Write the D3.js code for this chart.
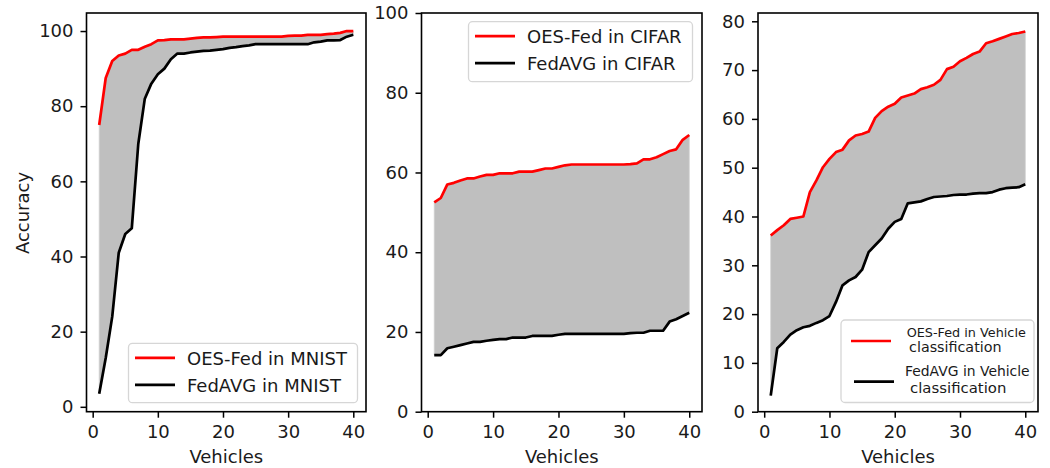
<!DOCTYPE html>
<html>
<head>
<meta charset="utf-8">
<script src="https://cdn.jsdelivr.net/npm/d3@7"></script>
<style>
  body { margin: 0; background: white; }
  svg text { font-family: "DejaVu Sans", sans-serif; fill: #1a1a1a; }
</style>
</head>
<body>
<svg id="chart" width="1050" height="468"></svg>
<script>
// x values, same for all 3 panels
const vehicles = [1,2,3,4,5,6,7,8,9,10,11,12,13,14,15,16,17,18,19,20,
                  21,22,23,24,25,26,27,28,29,30,31,32,33,34,35,36,37,38,39,40];

// MNIST
const oesMnist = [75,87.5,92,93.5,94,95,95,95.8,96.5,97.5,97.6,97.8,97.8,97.8,98,98.2,98.3,98.3,98.4,98.5,
                  98.5,98.5,98.5,98.5,98.5,98.5,98.5,98.5,98.5,98.7,98.8,98.8,99,99,99,99.2,99.3,99.5,100,100];
const avgMnist = [3.5,13,24,41,46,47.5,70,82,86,88.5,90,92.5,94,94,94.3,94.5,94.7,94.8,95,95.2,
                  95.5,95.7,96,96.2,96.5,96.5,96.5,96.5,96.5,96.5,96.5,96.5,96.5,97,97.2,97.5,97.5,97.6,98.5,99];

// CIFAR
const oesCifar = [52.5,53.6,57,57.4,58,58.5,58.5,59,59.4,59.4,59.8,59.8,59.8,60.2,60.2,60.2,60.6,61,61,61.4,
                  61.8,62,62,62,62,62,62,62,62,62,62.1,62.3,63.3,63.3,63.8,64.6,65.4,65.8,68.2,69.4];
const avgCifar = [14.2,14.2,15.9,16.3,16.7,17.1,17.5,17.5,17.8,18,18.2,18.2,18.6,18.6,18.6,19,19,19,19,19.3,
                  19.5,19.5,19.5,19.5,19.5,19.5,19.5,19.5,19.5,19.5,19.7,19.8,19.8,20.3,20.3,20.3,22.6,23.2,24,24.8];

// Vehicle classification
const oesVehicle = [36.1,37.2,38.2,39.5,39.75,40,45,47.4,50.1,51.8,53.2,53.7,55.6,56.6,56.9,57.4,60.2,61.6,62.5,63.1,
                    64.4,64.8,65.2,66.1,66.5,67,68,70.2,70.7,71.8,72.5,73.3,73.8,75.5,75.9,76.4,76.9,77.4,77.6,77.9];
const avgVehicle = [3.3,13,14.3,15.8,16.7,17.3,17.6,18.2,18.75,19.6,22.5,25.9,26.9,27.6,29.1,32.7,34.1,35.5,37.5,38.9,
                    39.5,42.7,42.9,43.1,43.6,44,44.1,44.2,44.4,44.5,44.5,44.7,44.8,44.8,45,45.5,45.8,45.9,46,46.6];

// ticks
const xTicks = [0,10,20,30,40];
const yTicks12 = [0,20,40,60,80,100];
const yTicks3 = [0,10,20,30,40,50,60,70,80];

// legend labels
const legend1 = ["OES-Fed in MNIST", "FedAVG in MNIST"];
const legend2 = ["OES-Fed in CIFAR", "FedAVG in CIFAR"];
const legend3 = [["OES-Fed in Vehicle", " classification"], ["FedAVG in Vehicle", " classification"]];

const svg = d3.select("#chart");
const plotTop = 13, plotBottom = 411.7;
const fontSize = 18;

//////////////////////////
// one panel
//////////////////////////
function drawPanel(p){
  let g = svg.append("g");

  let x = d3.scaleLinear().domain([-0.95, 41.95]).range([p.left, p.right]);
  let y = d3.scaleLinear().domain(p.yDomain).range([plotBottom, plotTop]);

  let rows = vehicles.map((v,i) => ({x: v, oes: p.oes[i], avg: p.avg[i]}));

  //gray band between the two curves
  let area = d3.area()
    .x(d => x(d.x))
    .y0(d => y(d.avg))
    .y1(d => y(d.oes));

  g.append("path")
    .datum(rows)
    .attr("d", area)
    .attr("fill", "#bfbfbf")
    .attr("stroke", "#d0d0d0")
    .attr("stroke-width", 0.8);

  //lines
  let lineOes = d3.line().x(d => x(d.x)).y(d => y(d.oes));
  let lineAvg = d3.line().x(d => x(d.x)).y(d => y(d.avg));

  g.append("path")
    .datum(rows)
    .attr("d", lineOes)
    .attr("fill", "none")
    .attr("stroke", "#ff0000")
    .attr("stroke-width", 2.7)
    .attr("stroke-linejoin", "round");

  g.append("path")
    .datum(rows)
    .attr("d", lineAvg)
    .attr("fill", "none")
    .attr("stroke", "#000000")
    .attr("stroke-width", 2.7)
    .attr("stroke-linejoin", "round");

  //axes
  let xAxis = g.append("g")
    .attr("transform", `translate(0,${plotBottom})`)
    .call(d3.axisBottom(x).tickValues(xTicks).tickSize(6).tickPadding(8));

  let yAxis = g.append("g")
    .attr("transform", `translate(${p.left},0)`)
    .call(d3.axisLeft(y).tickValues(p.yTicks).tickSize(6).tickPadding(7));

  [xAxis, yAxis].forEach(a => {
    a.select(".domain").remove();
    a.selectAll(".tick line").attr("stroke", "black").attr("stroke-width", 1.5);
    a.selectAll(".tick text")
      .attr("font-size", fontSize)
      .attr("font-family", "DejaVu Sans")
      .attr("fill", "#1a1a1a");
  });

  //frame
  g.append("rect")
    .attr("x", p.left)
    .attr("y", plotTop)
    .attr("width", p.right - p.left)
    .attr("height", plotBottom - plotTop)
    .attr("fill", "none")
    .attr("stroke", "black")
    .attr("stroke-width", 1.6);

  //x label
  g.append("text")
    .attr("x", (p.left + p.right) / 2)
    .attr("y", 463)
    .attr("text-anchor", "middle")
    .attr("font-size", fontSize)
    .text("Vehicles");

  return g;
}

//////////////////////////
// legends
//////////////////////////
function legendBox(g, b){
  g.append("rect")
    .attr("x", b.x).attr("y", b.y)
    .attr("width", b.w).attr("height", b.h)
    .attr("rx", 4)
    .attr("fill", "white").attr("fill-opacity", 0.8)
    .attr("stroke", "#d6d6d6").attr("stroke-width", 1.3);
}

function simpleLegend(g, b, labels){
  legendBox(g, b);
  let colors = ["#ff0000", "#000000"];
  labels.forEach((t, i) => {
    let ly = b.y + 14.5 + i * 27;
    g.append("line")
      .attr("x1", b.x + 6.5).attr("x2", b.x + 46.5)
      .attr("y1", ly).attr("y2", ly)
      .attr("stroke", colors[i]).attr("stroke-width", 2.7);
    g.append("text")
      .attr("x", b.x + 58.5)
      .attr("y", ly + 7)
      .attr("font-size", fontSize)
      .text(t);
  });
}

let g1 = drawPanel({left: 86.5, right: 366, yDomain: [-1.3, 104.8], yTicks: yTicks12, oes: oesMnist, avg: avgMnist});
let g2 = drawPanel({left: 421.5, right: 702, yDomain: [0, 100], yTicks: yTicks12, oes: oesCifar, avg: avgCifar});
let g3 = drawPanel({left: 758, right: 1038, yDomain: [0, 81.7], yTicks: yTicks3, oes: oesVehicle, avg: avgVehicle});

simpleLegend(g1, {x: 128.5, y: 343.3, w: 229, h: 59.4}, legend1);
simpleLegend(g2, {x: 468.5, y: 21.7, w: 224, h: 60}, legend2);

//third legend is a bit different (two line labels)
legendBox(g3, {x: 841, y: 320, w: 193, h: 82.5});
g3.append("line")
  .attr("x1", 851).attr("x2", 891).attr("y1", 341).attr("y2", 341)
  .attr("stroke", "#ff0000").attr("stroke-width", 2.7);
g3.append("line")
  .attr("x1", 854).attr("x2", 894).attr("y1", 381.7).attr("y2", 381.7)
  .attr("stroke", "#000000").attr("stroke-width", 2.7);

let l3 = [
  {t: legend3[0][0], x: 906.7, y: 336.5, s: 12.8},
  {t: legend3[0][1], x: 904.5, y: 352.3, s: 14.3},
  {t: legend3[1][0], x: 905, y: 375.7, s: 13.9},
  {t: legend3[1][1], x: 905.3, y: 392.7, s: 14.9}
];
l3.forEach(d => {
  g3.append("text")
    .attr("x", d.x).attr("y", d.y)
    .attr("font-size", d.s)
    .attr("xml:space", "preserve")
    .style("white-space", "pre")
    .text(d.t);
});

//y label only on first panel
svg.append("text")
  .attr("transform", "translate(29,213) rotate(-90)")
  .attr("text-anchor", "middle")
  .attr("font-size", fontSize)
  .text("Accuracy");
</script>
</body>
</html>
